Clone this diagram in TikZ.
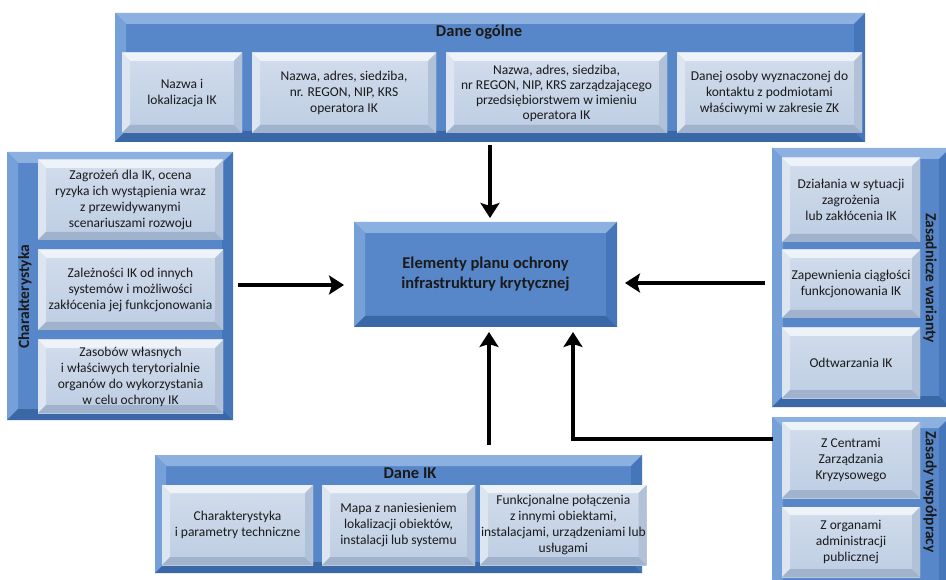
\documentclass[tikz,border=0pt]{standalone}
\usepackage{fontspec}
\setmainfont{Carlito}
\usetikzlibrary{arrows.meta}
\definecolor{pface}{HTML}{5887C9}
\definecolor{ptop}{HTML}{8CB0E0}
\definecolor{pleft}{HTML}{76A0D8}
\definecolor{pbot}{HTML}{3A67A6}
\definecolor{pright}{HTML}{4676BA}
\definecolor{iface}{HTML}{BDCDE3}
\definecolor{iface2}{HTML}{D2DDEC}
\definecolor{itop}{HTML}{EEF3F9}
\definecolor{ileft}{HTML}{DCE5F0}
\definecolor{ibot}{HTML}{A1B3CC}
\definecolor{iright}{HTML}{B0C1D8}
\definecolor{txt}{HTML}{1A1A1A}
\newcommand\bevelpic[5]{%
  \path (path picture bounding box.north west) coordinate (bNW)
        (path picture bounding box.north east) coordinate (bNE)
        (path picture bounding box.south west) coordinate (bSW)
        (path picture bounding box.south east) coordinate (bSE);
  \path ([xshift=#1,yshift=-#1]bNW) coordinate (iNW)
        ([xshift=-#1,yshift=-#1]bNE) coordinate (iNE)
        ([xshift=#1,yshift=#1]bSW) coordinate (iSW)
        ([xshift=-#1,yshift=#1]bSE) coordinate (iSE);
  \fill[#2] (bNW) -- (bNE) -- (iNE) -- (iNW) -- cycle;
  \fill[#3] (bNW) -- (iNW) -- (iSW) -- (bSW) -- cycle;
  \fill[#4] (bSW) -- (iSW) -- (iSE) -- (bSE) -- cycle;
  \fill[#5] (bNE) -- (bSE) -- (iSE) -- (iNE) -- cycle;
}
\newcommand\itemfont{\fontsize{13.5}{16}\selectfont}
\newcommand\titlefont{\fontsize{16.5}{19}\selectfont\bfseries}
\newcommand\sidefont{\fontsize{15.5}{18}\selectfont\bfseries}
\tikzset{
  panel/.style={rectangle, inner sep=0pt, outer sep=0pt, anchor=north west,
    fill=pface, path picture={\bevelpic{11pt}{ptop}{pleft}{pbot}{pright}}},
  item/.style={rectangle, inner sep=1pt, outer sep=0pt, anchor=north west,
    top color=iface2, bottom color=iface, align=center, font=\itemfont, text=txt,
    path picture={\bevelpic{8pt}{itop}{ileft}{ibot}{iright}}},
  ttl/.style={font=\titlefont, text=txt, inner sep=0pt},
  side/.style={font=\sidefont, text=txt, inner sep=0pt},
  arr/.style={line width=4pt, line join=miter, black,
    -{Stealth[length=15pt,width=19pt,inset=3pt]}}
}
\begin{document}
\begin{tikzpicture}[x=1pt,y=-1pt]
\useasboundingbox (0,0) rectangle (946,580);
\clip (0,0) rectangle (946,580);
% Dane ogólne
\node[panel, minimum width=750pt, minimum height=129pt] (top) at (115,13) {};
\node[ttl] (toptitle) at (479,32) {Dane ogólne};
\node[item, minimum width=120pt, minimum height=80pt] (t1) at (122,53) {Nazwa i\\lokalizacja IK};
\node[item, minimum width=184pt, minimum height=80pt] (t2) at (252,53) {Nazwa, adres, siedziba,\\nr. REGON, NIP, KRS\\operatora IK};
\node[item, minimum width=221pt, minimum height=80pt, font=\fontsize{13.5}{15}\selectfont] (t3) at (446,53) {Nazwa, adres, siedziba,\\nr REGON, NIP, KRS zarządzającego\\przedsiębiorstwem w imieniu\\operatora IK};
\node[item, minimum width=185pt, minimum height=80pt] (t4) at (677,53) {Danej osoby wyznaczonej do\\kontaktu z podmiotami\\właściwymi w zakresie ZK};
% Charakterystyka
\node[panel, minimum width=226pt, minimum height=268pt] (left) at (7,152) {};
\node[side, rotate=90] (lefttitle) at (25,297) {Charakterystyka};
\node[item, minimum width=185pt, minimum height=80pt] (c1) at (38,160) {Zagrożeń dla IK, ocena\\ryzyka ich wystąpienia wraz\\z przewidywanymi\\scenariuszami rozwoju};
\node[item, minimum width=185pt, minimum height=80pt] (c2) at (38,250) {Zależności IK od innych\\systemów i możliwości\\zakłócenia jej funkcjonowania};
\node[item, minimum width=185pt, minimum height=73pt] (c3) at (38,340) {Zasobów własnych\\i właściwych terytorialnie\\organów do wykorzystania\\w celu ochrony IK};
% Center
\node[panel, minimum width=263pt, minimum height=105pt] (ctr) at (354,222) {};
\node[font=\fontsize{16.5}{20}\selectfont\bfseries, text=txt, align=center] (ctrtext) at (ctr.center) {Elementy planu ochrony\\infrastruktury krytycznej};
% Zasadnicze warianty
\node[panel, minimum width=178pt, minimum height=259pt] (right) at (772,148) {};
\node[side, rotate=-90] (righttitle) at (930,278) {Zasadnicze warianty};
\node[item, minimum width=138pt, minimum height=84pt] (r1) at (782,158) {Działania w sytuacji\\zagrożenia\\lub zakłócenia IK};
\node[item, minimum width=138pt, minimum height=68pt] (r2) at (782,250) {Zapewnienia ciągłości\\funkcjonowania IK};
\node[item, minimum width=138pt, minimum height=70pt] (r3) at (782,328) {Odtwarzania IK};
% Zasady współpracy
\node[panel, minimum width=178pt, minimum height=175pt] (coop) at (772,417) {};
\node[side, rotate=-90] (cooptitle) at (930,492) {Zasady współpracy};
\node[item, minimum width=138pt, minimum height=76pt] (z1) at (782,422) {Z Centrami\\Zarządzania\\Kryzysowego};
\node[item, minimum width=138pt, minimum height=70pt] (z2) at (782,507) {Z organami\\administracji\\publicznej};
% Dane IK
\node[panel, minimum width=487pt, minimum height=118pt] (bot) at (155,455) {};
\node[ttl] (bottitle) at (410,473) {Dane IK};
\node[item, minimum width=151pt, minimum height=80pt] (b1) at (162,485) {Charakterystyka\\i parametry techniczne};
\node[item, minimum width=153pt, minimum height=80pt] (b2) at (322,485) {Mapa z naniesieniem\\lokalizacji obiektów,\\instalacji lub systemu};
\node[item, minimum width=153pt, minimum height=80pt, font=\fontsize{13.5}{16}\selectfont] (b3) at (480,485) {Funkcjonalne połączenia\\z innymi obiektami,\\instalacjami, urządzeniami lub\\usługami};
% Arrows
\draw[arr, shorten <=3pt, shorten >=4pt] (top.south) -- (top.south |- ctr.north);
\coordinate (la) at (238,285);
\draw[arr, shorten >=10pt] (la) -- (la -| ctr.west);
\coordinate (ra) at (765,283);
\draw[arr, shorten >=8pt] (ra) -- (ra -| ctr.east);
\coordinate (ba) at (489,445);
\draw[arr, shorten >=5pt] (ba) -- (ba |- ctr.south);
\coordinate (ea) at (773,439);
\coordinate (eb) at (573,439);
\draw[arr, shorten >=5pt] (ea) -- (eb) -- (eb |- ctr.south);
\end{tikzpicture}
\end{document}
